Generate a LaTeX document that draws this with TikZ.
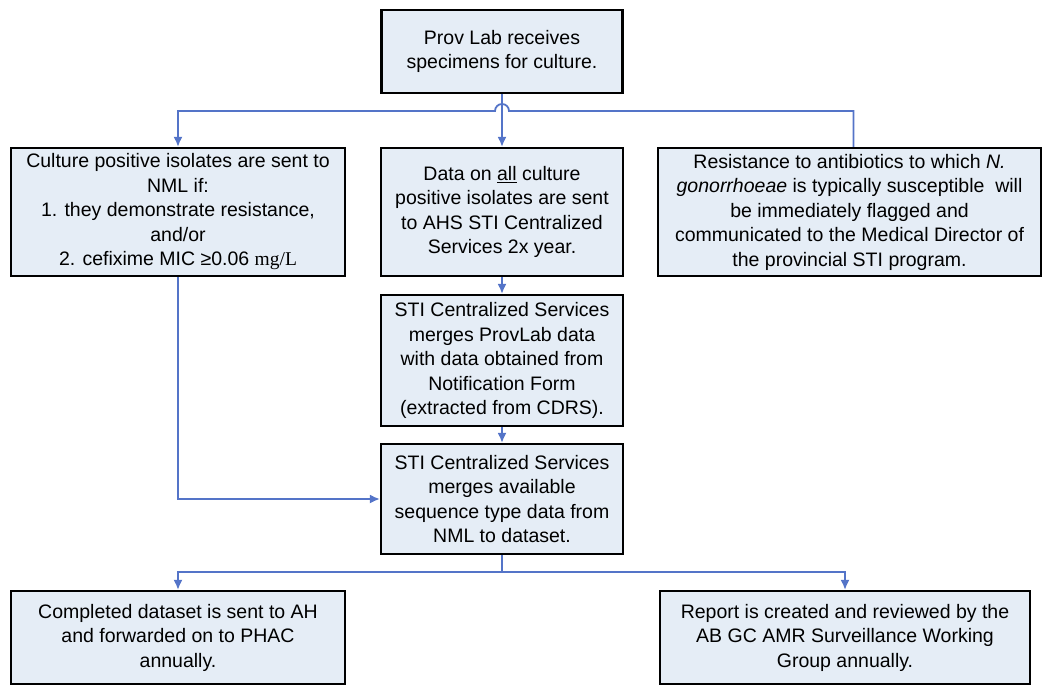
\documentclass[tikz,border=0pt]{standalone}
\usepackage{fontspec}
\setmainfont{Liberation Sans}
\newfontfamily\unitfont{Liberation Serif}
\usetikzlibrary{arrows.meta}
\definecolor{boxfill}{RGB}{229,237,246}
\definecolor{linkblue}{RGB}{84,116,200}

\begin{document}
\begin{tikzpicture}[x=1pt, y=-1pt, >={Latex[length=10pt,width=9pt]},
  box/.style={draw=black, line width=2.2pt, fill=boxfill, align=center, inner sep=0pt,
    font=\fontsize{19.5}{24.5}\selectfont},
  link/.style={draw=linkblue, line width=1.8pt}]

% Fix the frame
\useasboundingbox (0,0) rectangle (1043,685);

% Draw the boxes
\node[box, minimum width=241pt, minimum height=83pt] (prov) at (502,51.5)
  {Prov Lab receives\\ specimens for culture.};
\node[box, minimum width=334pt, minimum height=128pt] (cult) at (178,212)
  {Culture positive isolates are sent to\\ NML if:\\ 1. they demonstrate resistance,\\ and/or\\
   2. cefixime MIC ≥0.06 {\unitfont mg/L}};
\node[box, minimum width=242pt, minimum height=128pt] (data) at (502,212)
  {Data on \underline{all} culture\\ positive isolates are sent\\ to AHS STI Centralized\\ Services 2x year.};
\node[box, minimum width=383pt, minimum height=128pt] (resist) at (849.5,212)
  {Resistance to antibiotics to which \textit{N.}\\ \textit{gonorrhoeae} is typically susceptible\ \ will\\
   be immediately flagged and\\ communicated to the Medical Director of\\ the provincial STI program.};
\node[box, minimum width=242pt, minimum height=131pt] (merge1) at (502,360.5)
  {STI Centralized Services\\ merges ProvLab data\\ with data obtained from\\ Notification Form\\ (extracted from CDRS).};
\node[box, minimum width=242pt, minimum height=110pt] (merge2) at (502,499)
  {STI Centralized Services\\ merges available\\ sequence type data from\\ NML to dataset.};
\node[box, minimum width=334pt, minimum height=93pt] (compl) at (178,637.5)
  {Completed dataset is sent to AH\\ and forwarded on to PHAC\\ annually.};
\node[box, minimum width=370pt, minimum height=93pt] (report) at (845,637.5)
  {Report is created and reviewed by the\\ AB GC AMR Surveillance Working\\ Group annually.};

% Draw the connectors
\coordinate (hop) at (509,111);
\coordinate (fork) at (502,572);
\draw[link,->] (prov.south) -- (data.north);
\draw[link,->] ([xshift=4pt]resist.north) |- (hop) arc[start angle=0, end angle=180, radius=7pt]
  -- (cult.north |- hop) -- (cult.north);
\draw[link,->] (data.south) -- (merge1.north);
\draw[link,->] (merge1.south) -- (merge2.north);
\draw[link,->] (cult.south) |- (merge2.west);
\draw[link] (merge2.south) -- (fork);
\draw[link,->] (fork) -| (compl.north);
\draw[link,->] (fork) -| (report.north);
\end{tikzpicture}
\end{document}
